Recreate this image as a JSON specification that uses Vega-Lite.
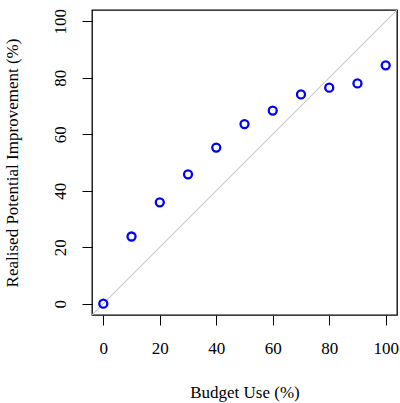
{
  "$schema": "https://vega.github.io/schema/vega-lite/v6.json",
  "width": 305,
  "height": 305,
  "autosize": {"type": "none"},
  "padding": {"left": 92, "top": 10, "right": 3, "bottom": 88},
  "background": "white",
  "config": {
    "font": "Liberation Serif",
    "view": {"stroke": "black", "strokeWidth": 1.3},
    "axis": {
      "grid": false,
      "domain": false,
      "tickColor": "black",
      "tickSize": 10,
      "tickWidth": 1,
      "labelFont": "Liberation Serif",
      "labelFontSize": 17,
      "labelColor": "black",
      "titleFont": "Liberation Serif",
      "titleFontSize": 17,
      "titleFontWeight": "normal",
      "titleColor": "black"
    }
  },
  "datasets": {
    "pts": [
      {"budget": 0, "improvement": 0},
      {"budget": 10, "improvement": 23.8},
      {"budget": 20, "improvement": 35.9},
      {"budget": 30, "improvement": 45.8},
      {"budget": 40, "improvement": 55.3},
      {"budget": 50, "improvement": 63.6},
      {"budget": 60, "improvement": 68.4},
      {"budget": 70, "improvement": 74.1},
      {"budget": 80, "improvement": 76.5},
      {"budget": 90, "improvement": 78.0},
      {"budget": 100, "improvement": 84.4}
    ],
    "diag": [
      {"budget": -4, "improvement": -4},
      {"budget": 104, "improvement": 104}
    ]
  },
  "layer": [
    {
      "data": {"name": "diag"},
      "mark": {"type": "line", "color": "#c8c8c8", "strokeWidth": 1.1, "clip": true},
      "encoding": {
        "x": {"field": "budget", "type": "quantitative", "scale": {"domain": [-4, 104], "nice": false, "zero": false}},
        "y": {"field": "improvement", "type": "quantitative", "scale": {"domain": [-4, 104], "nice": false, "zero": false}}
      }
    },
    {
      "data": {"name": "pts"},
      "mark": {"type": "point", "shape": "circle", "filled": false, "color": "#0000ff", "strokeWidth": 2.3, "size": 64, "opacity": 1},
      "encoding": {
        "x": {
          "field": "budget", "type": "quantitative",
          "scale": {"domain": [-4, 104], "nice": false, "zero": false},
          "axis": {"title": "Budget Use (%)", "values": [0, 20, 40, 60, 80, 100], "labelPadding": 15, "titlePadding": 28, "labelFlush": false, "labelOverlap": false}
        },
        "y": {
          "field": "improvement", "type": "quantitative",
          "scale": {"domain": [-4, 104], "nice": false, "zero": false},
          "axis": {"title": "Realised Potential Improvement (%)", "values": [0, 20, 40, 60, 80, 100], "labelAngle": 270, "labelAlign": "center", "labelBaseline": "bottom", "labelPadding": 13, "titlePadding": 30, "labelFlush": false, "labelOverlap": false}
        }
      }
    }
  ]
}
